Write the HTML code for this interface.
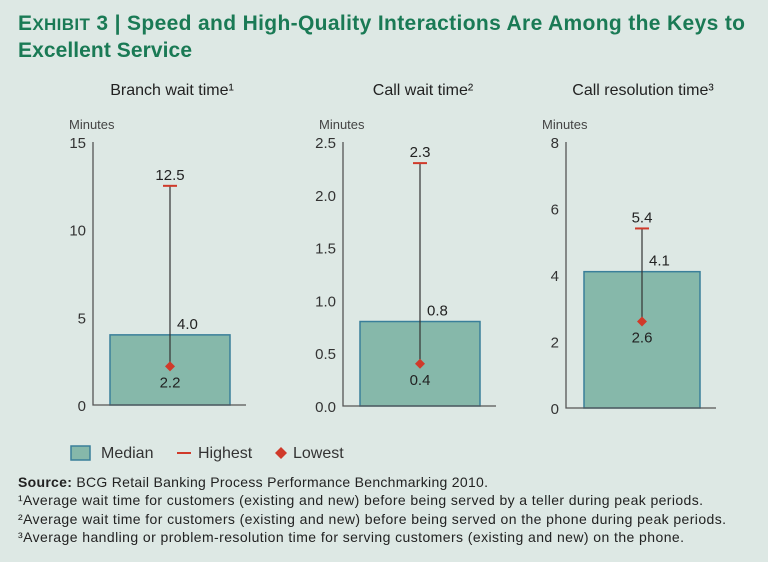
<!DOCTYPE html>
<html><head><meta charset="utf-8"><style>
body{margin:0;width:768px;height:557px;background:#dde8e4;font-family:"Liberation Sans",sans-serif;overflow:hidden}
svg text{font-family:"Liberation Sans",sans-serif}
</style></head><body>
<svg width="768" height="557">
<text x="18" y="30" fill="#1a7a55" font-size="21" font-weight="bold" textLength="727" lengthAdjust="spacing"><tspan font-size="21">E</tspan><tspan font-size="17">XHIBIT</tspan> 3 | Speed and High-Quality Interactions Are Among the Keys to</text>
<text x="18" y="57" fill="#1a7a55" font-size="21" font-weight="bold" textLength="174" lengthAdjust="spacing">Excellent Service</text>
<g id="charts"></g>
<g>
<rect x="71" y="446" width="19" height="14" fill="#86b8aa" stroke="#3a7f9a" stroke-width="1.5"/>
<text x="101" y="458" font-size="16" fill="#333">Median</text>
<line x1="177" y1="453" x2="191" y2="453" stroke="#d03a2a" stroke-width="2"/>
<text x="198" y="458" font-size="16" fill="#333">Highest</text>
<path d="M281 447 L287 453 L281 459 L275 453Z" fill="#d03a2a"/>
<text x="293" y="458" font-size="16" fill="#333">Lowest</text>
</g>
<g font-size="14" fill="#222">
<text x="18" y="487" textLength="470" lengthAdjust="spacing"><tspan font-weight="bold">Source:</tspan> BCG Retail Banking Process Performance Benchmarking 2010.</text>
<text x="18" y="505" textLength="685" lengthAdjust="spacing">¹Average wait time for customers (existing and new) before being served by a teller during peak periods.</text>
<text x="18" y="524" textLength="708" lengthAdjust="spacing">²Average wait time for customers (existing and new) before being served on the phone during peak periods.</text>
<text x="18" y="542" textLength="666" lengthAdjust="spacing">³Average handling or problem-resolution time for serving customers (existing and new) on the phone.</text>
</g>
</svg>
<script>
const titles=["Branch wait time¹","Call wait time²","Call resolution time³"];
const medians=[4.0,0.8,4.1];
const highs=[12.5,2.3,5.4];
const lows=[2.2,0.4,2.6];
const maxes=[15,2.5,8];
const ticks=[["0","5","10","15"],["0.0","0.5","1.0","1.5","2.0","2.5"],["0","2","4","6","8"]];
const layout=[{ax:93,top:142,bot:405,bx:110,bw:120,tx:172},{ax:343,top:142,bot:406,bx:360,bw:120,tx:423},{ax:566,top:142,bot:408,bx:584,bw:116,tx:643}];
const NS="http://www.w3.org/2000/svg";
const g=document.getElementById('charts');
function mk(t,a,p){const e=document.createElementNS(NS,t);for(const k in a)e.setAttribute(k,a[k]);(p||g).appendChild(e);return e;}
function txt(x,y,s,size,anchor,p){const e=mk('text',{x:x,y:y,'font-size':size,'text-anchor':anchor||'start',fill:'#222'},p);e.textContent=s;return e;}
for(let i=0;i<3;i++){
 const L=layout[i];const y=v=>L.bot-(v/maxes[i])*(L.bot-L.top);
 const cg=mk('g',{});
 
 
 const t=txt(L.tx,95,titles[i],16,'middle',cg);
 
 
 const m=txt(L.ax-24,129,'Minutes',13,'start',cg);m.setAttribute('fill','#444');
 
 
 ticks[i].forEach(s=>{const e=txt(L.ax-7,y(parseFloat(s))+6,s,15,'end',cg);e.setAttribute('fill','#333');
  
  });
 const b=mk('rect',{x:L.bx,y:y(medians[i]),width:L.bw,height:L.bot-y(medians[i]),fill:'#86b8aa',stroke:'#3a7f9a','stroke-width':1.5},cg);
 
 
 const ax=mk('path',{d:`M${L.ax} ${L.top} V${L.bot} H${L.bx+L.bw+16}`,stroke:'#555','stroke-width':1.3,fill:'none'},cg);
 
 
 const cx=L.bx+L.bw/2;
 const w=mk('line',{x1:cx,x2:cx,y1:y(highs[i]),y2:y(lows[i]),stroke:'#333','stroke-width':1.2},cg);
 
 
 const c=mk('line',{x1:cx-7,x2:cx+7,y1:y(highs[i]),y2:y(highs[i]),stroke:'#d03a2a','stroke-width':2},cg);
 
 
 const ly=y(lows[i]);
 const d=mk('path',{d:`M${cx} ${ly-5} L${cx+5} ${ly} L${cx} ${ly+5} L${cx-5} ${ly}Z`,fill:'#d03a2a'},cg);
 
 
 const hl=txt(cx,y(highs[i])-6,highs[i].toFixed(1),15,'middle',cg);
 
 
 const ml=txt(cx+7,y(medians[i])-6,medians[i].toFixed(1),15,'start',cg);
 
 
 const ll=txt(cx,ly+21,lows[i].toFixed(1),15,'middle',cg);
 
 
}
</script>
</body></html>
